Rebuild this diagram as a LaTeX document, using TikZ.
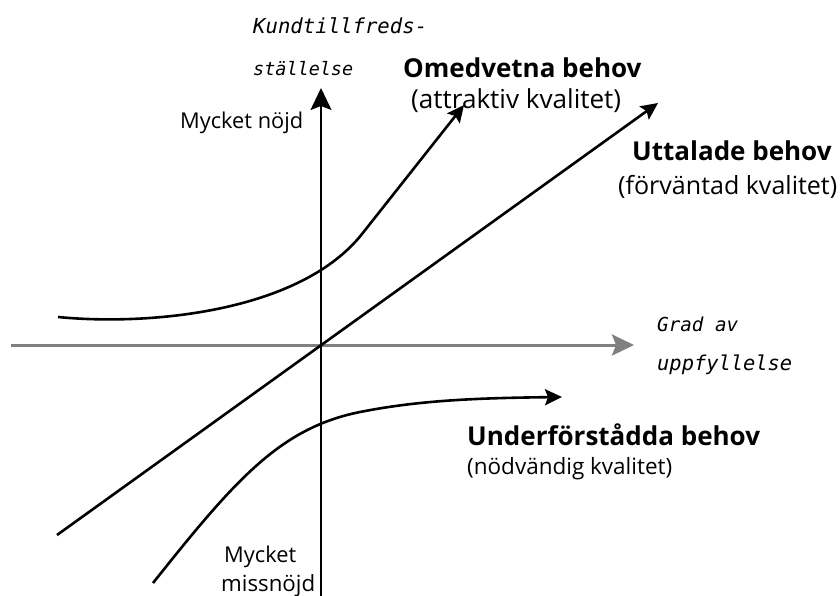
\documentclass[tikz,border=0pt]{standalone}
\usepackage{graphicx}
\usepackage{fontspec}
\setmainfont{Open Sans}
\newfontfamily\monofam{DejaVu Sans Mono}
\usetikzlibrary{arrows.meta}
\newcommand{\fitw}[2]{\resizebox{#1}{!}{\strut #2}}
\begin{document}
\begin{tikzpicture}[x=1pt,y=-1pt,
  curve/.style={line width=2.6pt,-{Stealth[length=17pt,width=16pt,inset=3pt]}},
  axis/.style={-{Stealth[length=22pt,width=21pt,inset=4pt]}},
  lbl/.style={font=\fontsize{14}{16}\selectfont,inner sep=0pt,anchor=west},
  bold/.style={font=\fontsize{26}{30}\selectfont\bfseries,inner sep=0pt,anchor=west},
  ital/.style={font=\fontsize{14}{16}\selectfont\monofam\itshape,inner sep=0pt,anchor=west}]
\useasboundingbox (0,0) rectangle (840,595);
% axes
\coordinate (xs) at (11,345);
\coordinate (xe) at (634,345);
\coordinate (ys) at (321,596);
\coordinate (ye) at (321,88);
\draw[axis,line width=3pt,draw=black!50,fill=black] (xs) -- (xe);
\draw[axis,line width=1.4pt] (ys) -- (ye);
% Uttalade
\coordinate (us) at (57,535);
\coordinate (ue) at (658,103);
\draw[curve] (us) -- (ue);
% Omedvetna
\coordinate (os) at (58,317);
\coordinate (oe) at (464,105);
\draw[curve] (os) .. controls (150,326) and (300,312) .. (362,234) -- (oe);
% Underforstadda
\coordinate (ds) at (153,583);
\coordinate (de) at (562,397);
\draw[curve] (ds) .. controls (235,480) and (280,428) .. (360,412) .. controls (420,400) and (480,398) .. (de);
% labels
\node[ital] (k1) at (253,29) {\fitw{174pt}{Kundtillfreds-}};
\node[ital] (k2) at (253,71) {\fitw{100pt}{ställelse}};
\node[bold] (om) at (403,68) {Omedvetna behov};
\node[lbl] (oma) at (411,103) {\fitw{210pt}{(attraktiv kvalitet)}};
\node[lbl] (mn) at (180,124) {\fitw{123pt}{Mycket nöjd}};
\node[bold] (ut) at (632,151) {Uttalade behov};
\node[lbl] (uta) at (618,189) {\fitw{219pt}{(förväntad kvalitet)}};
\node[ital] (g1) at (657,327) {\fitw{81pt}{Grad av}};
\node[ital] (g2) at (657,366) {\fitw{135pt}{uppfyllelse}};
\node[bold] (un) at (467,435) {Underförstådda behov};
\node[lbl] (una) at (467,469) {\fitw{205pt}{(nödvändig kvalitet)}};
\node[lbl] (m1) at (224,558) {\fitw{72pt}{Mycket}};
\node[lbl] (m2) at (221,586) {\fitw{94pt}{missnöjd}};
\end{tikzpicture}
\end{document}
